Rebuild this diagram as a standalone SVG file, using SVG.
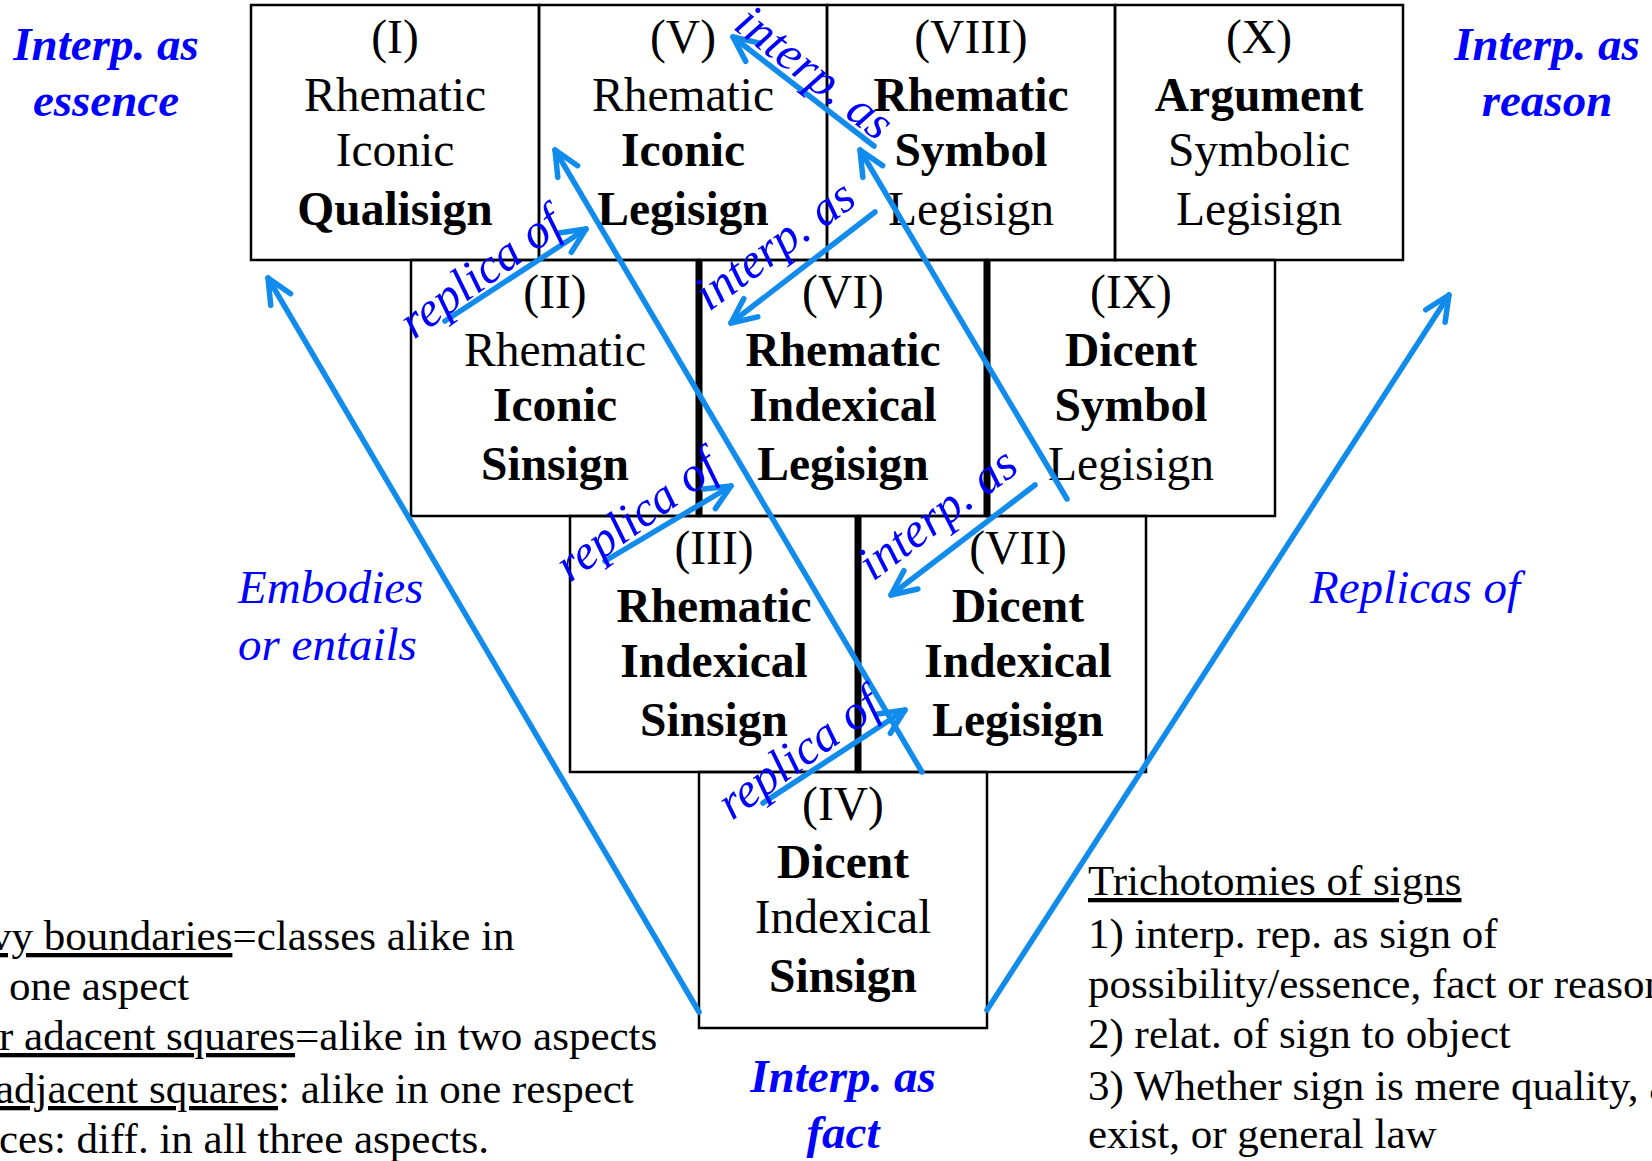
<svg xmlns="http://www.w3.org/2000/svg" width="1652" height="1161" viewBox="0 0 1652 1161">
<defs>
<style>
.box{fill:none;stroke:#000;stroke-width:2.5}
.sep{stroke:#000;stroke-width:7}
.t{font-family:"Liberation Serif","Times New Roman",serif;font-size:47.5px;fill:#000;text-anchor:middle}
.b{font-weight:bold}
.lab{font-family:"Liberation Serif","Times New Roman",serif;font-size:49px;font-style:italic;fill:#0000ff}
.side{font-family:"Liberation Serif","Times New Roman",serif;font-size:47px;font-style:italic;fill:#0000ff}
.sb{font-weight:bold;text-anchor:middle}
.note{font-family:"Liberation Serif","Times New Roman",serif;font-size:43px;fill:#000}
.u{text-decoration:underline}
.arr{fill:none;stroke:#118cec;stroke-width:5.5;stroke-linecap:round;marker-end:url(#ah)}
</style>
<marker id="ah" markerUnits="userSpaceOnUse" viewBox="-32 -16 36 32" refX="0" refY="0" markerWidth="36" markerHeight="32" orient="auto" overflow="visible">
<path d="M-25,-11.5 L0,0 L-25,11.5" fill="none" stroke="#118cec" stroke-width="5.5" stroke-linecap="round" stroke-linejoin="round"/>
</marker>
</defs>
<rect width="1652" height="1161" fill="#fff"/>

<g id="node-I">
<rect class="box" x="251" y="5" width="288" height="255"/>
<text class="t" x="395" y="53">(I)</text>
<text class="t" x="395" y="111">Rhematic</text>
<text class="t" x="395" y="166">Iconic</text>
<text class="t b" x="395" y="225">Qualisign</text>
</g>
<g id="node-V">
<rect class="box" x="539" y="5" width="288" height="255"/>
<text class="t" x="683" y="53">(V)</text>
<text class="t" x="683" y="111">Rhematic</text>
<text class="t b" x="683" y="166">Iconic</text>
<text class="t b" x="683" y="225">Legisign</text>
</g>
<g id="node-VIII">
<rect class="box" x="827" y="5" width="288" height="255"/>
<text class="t" x="971" y="53">(VIII)</text>
<text class="t b" x="971" y="111">Rhematic</text>
<text class="t b" x="971" y="166">Symbol</text>
<text class="t" x="971" y="225">Legisign</text>
</g>
<g id="node-X">
<rect class="box" x="1115" y="5" width="288" height="255"/>
<text class="t" x="1259" y="53">(X)</text>
<text class="t b" x="1259" y="111">Argument</text>
<text class="t" x="1259" y="166">Symbolic</text>
<text class="t" x="1259" y="225">Legisign</text>
</g>
<g id="node-II">
<rect class="box" x="411" y="260" width="288" height="256"/>
<text class="t" x="555" y="308">(II)</text>
<text class="t" x="555" y="366">Rhematic</text>
<text class="t b" x="555" y="421">Iconic</text>
<text class="t b" x="555" y="480">Sinsign</text>
</g>
<g id="node-VI">
<rect class="box" x="699" y="260" width="288" height="256"/>
<text class="t" x="843" y="308">(VI)</text>
<text class="t b" x="843" y="366">Rhematic</text>
<text class="t b" x="843" y="421">Indexical</text>
<text class="t b" x="843" y="480">Legisign</text>
</g>
<g id="node-IX">
<rect class="box" x="987" y="260" width="288" height="256"/>
<text class="t" x="1131" y="308">(IX)</text>
<text class="t b" x="1131" y="366">Dicent</text>
<text class="t b" x="1131" y="421">Symbol</text>
<text class="t" x="1131" y="480">Legisign</text>
</g>
<g id="node-III">
<rect class="box" x="570" y="516" width="288" height="256"/>
<text class="t" x="714" y="564">(III)</text>
<text class="t b" x="714" y="622">Rhematic</text>
<text class="t b" x="714" y="677">Indexical</text>
<text class="t b" x="714" y="736">Sinsign</text>
</g>
<g id="node-VII">
<rect class="box" x="858" y="516" width="288" height="256"/>
<text class="t" x="1018" y="564">(VII)</text>
<text class="t b" x="1018" y="622">Dicent</text>
<text class="t b" x="1018" y="677">Indexical</text>
<text class="t b" x="1018" y="736">Legisign</text>
</g>
<g id="node-IV">
<rect class="box" x="699" y="772" width="288" height="256"/>
<text class="t" x="843" y="820">(IV)</text>
<text class="t b" x="843" y="878">Dicent</text>
<text class="t" x="843" y="933">Indexical</text>
<text class="t b" x="843" y="992">Sinsign</text>
</g>

<g id="heavy-boundaries">
<line class="sep" x1="699" y1="260" x2="699" y2="516"/>
<line class="sep" x1="987" y1="260" x2="987" y2="516"/>
<line class="sep" x1="858" y1="516" x2="858" y2="772"/>
</g>

<g id="connectors">
<line class="arr" x1="699" y1="1012" x2="268" y2="278"/>
<line class="arr" x1="987" y1="1010" x2="1449" y2="295"/>
<line class="arr" x1="922" y1="772" x2="555" y2="150"/>
<line class="arr" x1="1067" y1="499" x2="860" y2="150"/>
<line class="arr" x1="875" y1="212" x2="731" y2="323"/>
<line class="arr" x1="874" y1="146" x2="733" y2="37"/>
<line class="arr" x1="1035" y1="485" x2="891" y2="595"/>
<line class="arr" x1="445" y1="321" x2="586" y2="229"/>
<line class="arr" x1="605" y1="561" x2="731" y2="486"/>
<line class="arr" x1="763" y1="803" x2="905" y2="710"/>
<text class="lab" transform="translate(732,28) rotate(38)">interp. as</text>
<text class="lab" transform="translate(709,312) rotate(-36)">interp. as</text>
<text class="lab" transform="translate(873,582) rotate(-37)">interp. as</text>
<text class="lab" transform="translate(414,340) rotate(-36)">replica of</text>
<text class="lab" transform="translate(570,583) rotate(-36)">replica of</text>
<text class="lab" transform="translate(732,821) rotate(-36)">replica of</text>
</g>

<g id="side-labels">
<text class="side sb" x="106" y="60">Interp. as</text>
<text class="side sb" x="106" y="116">essence</text>
<text class="side sb" x="1547" y="60">Interp. as</text>
<text class="side sb" x="1547" y="116">reason</text>
<text class="side sb" x="843" y="1092">Interp. as</text>
<text class="side sb" x="843" y="1148">fact</text>
<text class="side" x="238" y="603">Embodies</text>
<text class="side" x="238" y="660">or entails</text>
<text class="side" x="1310" y="603">Replicas of</text>
</g>

<g id="legend-left">
<text class="note" x="-10" y="950"><tspan class="u">vy boundaries</tspan>=classes alike in</text>
<text class="note" x="9" y="1000">one aspect</text>
<text class="note" x="-1" y="1050"><tspan class="u">r adacent squares</tspan>=alike in two aspects</text>
<text class="note" x="-5" y="1103"><tspan class="u">adjacent squares</tspan>: alike in one respect</text>
<text class="note" x="-1" y="1153">ces: diff. in all three aspects.</text>
</g>

<g id="legend-right">
<text class="note u" x="1088" y="895">Trichotomies of signs</text>
<text class="note" x="1088" y="948">1) interp. rep. as sign of</text>
<text class="note" x="1088" y="998">possibility/essence, fact or reason</text>
<text class="note" x="1088" y="1048">2) relat. of sign to object</text>
<text class="note" x="1088" y="1100">3) Whether sign is mere quality, a</text>
<text class="note" x="1088" y="1148">exist, or general law</text>
</g>
</svg>
